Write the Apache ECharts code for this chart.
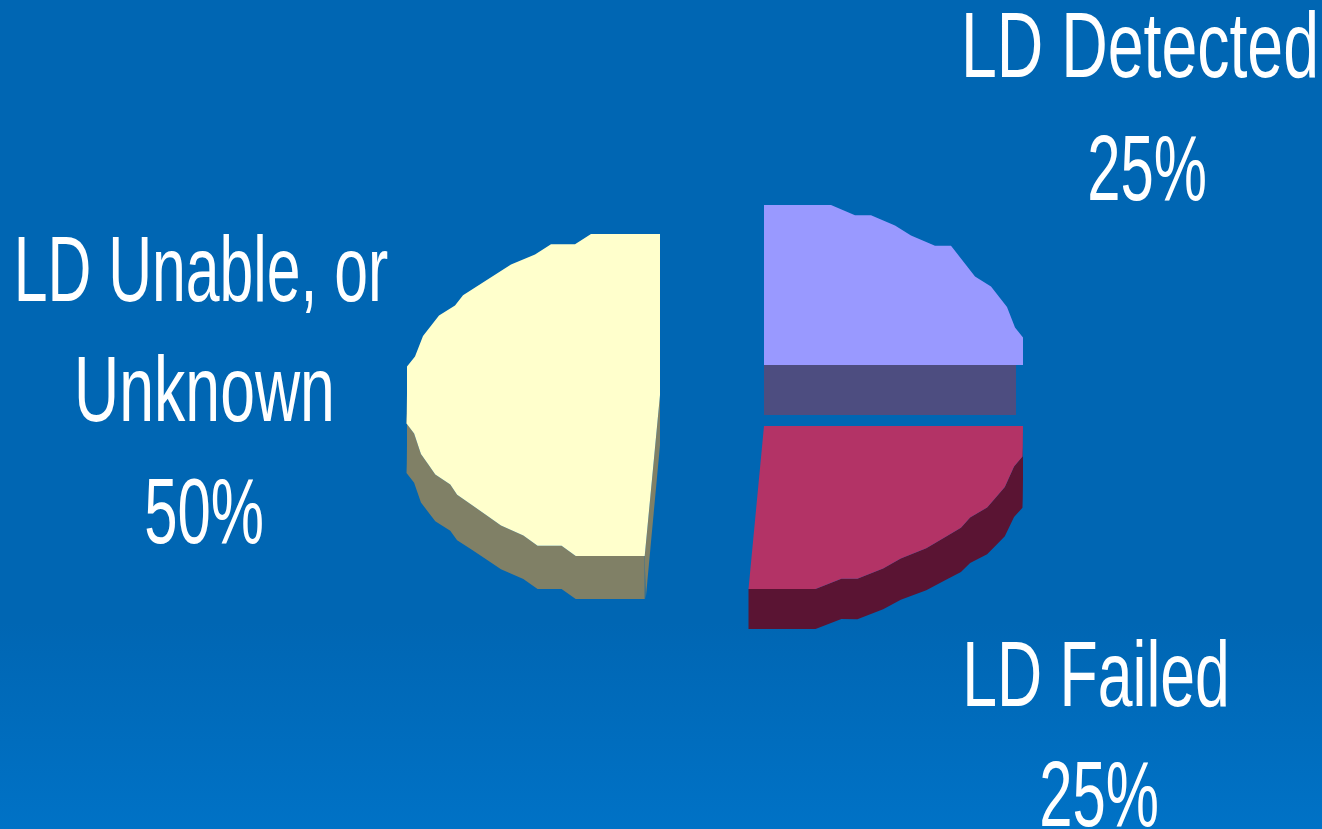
<!DOCTYPE html>
<html>
<head>
<meta charset="utf-8">
<style>html,body{margin:0;padding:0;background:#0066b3}#c{width:1322px;height:829px}</style>
<script src="https://cdn.jsdelivr.net/npm/echarts@6/dist/echarts.min.js"></script>
</head>
<body>
<div id="c"></div>
<script>
// Outcome shares, clockwise from twelve o'clock
const categories = ['LD Detected', 'LD Failed', 'LD Unable, or Unknown'];
const shares = [25, 25, 50];

// Exploded placement and extrusion of each wedge
const wedgeLayout = [
  { apex: [764, 365], rx: 259, ry: 160, depthFront: 0,  depthSide: 0,  top: '#9999ff', side: '#4d4d80', cut: 'front' },
  { apex: [764, 426], rx: 259, ry: 163, depthFront: 40, depthSide: 52, top: '#b33366', side: '#5a1433', cut: 'none' },
  { apex: [660, 395], rx: 253, ry: 161, depthFront: 43, depthSide: 50, top: '#ffffcc', side: '#808066', cut: 'back' }
];
const SKEW = -0.095;      // lower half of the pie leans left
const ANGLE_STEP = 5;     // degrees between outline samples
const GRID_X = 8, GRID_Y = 10.2; // the outline is snapped to this coarse lattice

// Label lines: text, centre x, baseline y, horizontal squeeze
const labelLines = [
  { text: categories[0], cx: 1140, y: 77, sx: 0.70 },
  { text: shares[0] + '%', cx: 1147, y: 200, sx: 0.65 },
  { text: 'LD Unable, or', cx: 201, y: 301, sx: 0.66 },
  { text: 'Unknown', cx: 204.5, y: 421, sx: 0.68 },
  { text: shares[2] + '%', cx: 204, y: 543, sx: 0.65 },
  { text: categories[1], cx: 1096, y: 706, sx: 0.68 },
  { text: shares[1] + '%', cx: 1099, y: 826, sx: 0.65 }
];

const total = shares.reduce((a, b) => a + b, 0);
const spans = [];
shares.reduce((acc, v) => { spans.push([acc, acc + v / total * 360]); return acc + v / total * 360; }, 0);

// Snap a radial offset inward from the extreme of the ellipse, so runs stay flat at the top and sides
function snapFromExtreme(v, extreme, step) {
  const gap = extreme - Math.abs(v);
  const snapped = Math.max(0, Math.round(gap / step - 0.1) * step);
  return Math.sign(v) * (extreme - snapped);
}

// Point on the tilted ellipse; angle measured clockwise from the top
function rimPoint(w, deg, coarse) {
  const a = deg * Math.PI / 180;
  let dx = w.rx * Math.sin(a), dy = -w.ry * Math.cos(a);
  if (coarse) { dx = snapFromExtreme(dx, w.rx, GRID_X); dy = snapFromExtreme(dy, w.ry, GRID_Y); }
  if (dy > 0) dx += SKEW * dy * (dy / w.ry);
  return [w.apex[0] + dx, w.apex[1] + dy];
}

function rim(w, from, to) {
  const pts = [rimPoint(w, from, false)];
  for (let d = from + ANGLE_STEP; d < to - 0.01; d += ANGLE_STEP) pts.push(rimPoint(w, d, true));
  pts.push(rimPoint(w, to, false));
  return pts;
}

function renderWedge(params, api) {
  const i = api.value(0);
  const w = wedgeLayout[i], span = spans[i];
  const children = [];
  const outline = rim(w, span[0], span[1]);

  // Curved outer wall: the part of the rim that faces the viewer
  const from = Math.max(span[0], 90), to = Math.min(span[1], 270);
  if (w.depthFront > 0 && to > from) {
    const front = rim(w, from, to);
    const lowered = front.map((p, k) => {
      const deg = from + (to - from) * k / (front.length - 1);
      const s = Math.sin(deg * Math.PI / 180);
      return [p[0], p[1] + w.depthFront + (w.depthSide - w.depthFront) * s * s * s * s];
    });
    children.push({ type: 'polygon', shape: { points: front.concat(lowered.reverse()) }, style: { fill: w.side } });
  }
  // Flat cut faces left visible by the explosion
  if (w.cut === 'front') {
    const y = w.apex[1], d = 50, x0 = w.apex[0], x1 = x0 + w.rx - 7;
    children.push({ type: 'polygon', shape: { points: [[x0, y], [x1, y], [x1, y + d], [x0, y + d]] }, style: { fill: w.side } });
  }
  if (w.cut === 'back') {
    const b = outline[0], x = w.apex[0], y = w.apex[1];
    children.push({ type: 'polygon', shape: { points: [[x, y], [x, y + 50], [b[0] + 1, b[1] + w.depthFront], [b[0], b[1]]] }, style: { fill: w.side } });
  }
  // Top face
  children.push({ type: 'polygon', shape: { points: [w.apex].concat(outline) }, style: { fill: w.top } });
  return { type: 'group', children };
}

const chart = echarts.init(document.getElementById('c'), null, { renderer: 'canvas' });
chart.setOption({
  animation: false,
  backgroundColor: {
    type: 'linear', x: 0, y: 0, x2: 0, y2: 1,
    colorStops: [{ offset: 0, color: '#0066b3' }, { offset: 0.75, color: '#0066b3' }, { offset: 1, color: '#0072c6' }]
  },
  series: [{
    type: 'custom',
    coordinateSystem: 'none',
    renderItem: renderWedge,
    silent: true,
    data: shares.map((v, i) => ({ name: categories[i], value: [i, v] }))
  }],
  graphic: labelLines.map(l => ({
    type: 'text',
    x: l.cx,
    y: l.y - 25,
    scaleX: l.sx,
    style: {
      text: l.text,
      fill: '#ffffff',
      font: '92px "Liberation Sans", Arial, sans-serif',
      textAlign: 'center',
      textVerticalAlign: 'middle'
    }
  }))
});
</script>
</body>
</html>
